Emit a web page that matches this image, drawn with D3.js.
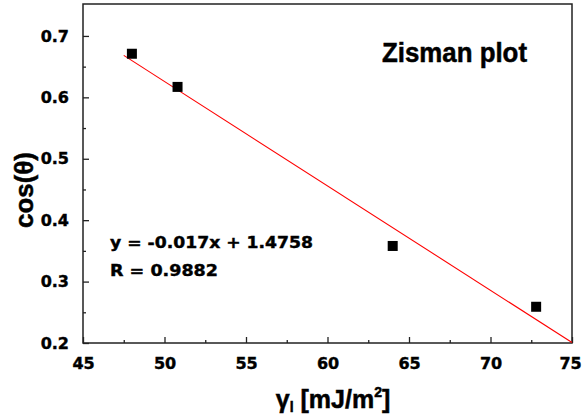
<!DOCTYPE html>
<html>
<head>
<meta charset="utf-8">
<script src="https://cdn.jsdelivr.net/npm/d3@7"></script>
<style>
  html, body { margin: 0; padding: 0; background: #fff; }
  svg { display: block; }
</style>
</head>
<body>
<div id="chart"></div>
<script>
// Surface tension of probe liquids vs. cosine of contact angle
const surfaceTension = [48.0, 50.8, 64.0, 72.8];
const cosTheta = [0.671, 0.617, 0.358, 0.259];

// Linear fit y = slope * x + intercept
const fitSlope = -0.017;
const fitIntercept = 1.4758;
const fitR = 0.9882;
const fitRange = [47.5, 75];

const xTicks = [45, 50, 55, 60, 65, 70, 75];
const xMinorTicks = [47.5, 52.5, 57.5, 62.5, 67.5, 72.5];
const yTicks = [0.2, 0.3, 0.4, 0.5, 0.6, 0.7];
const yMinorTicks = [0.25, 0.35, 0.45, 0.55, 0.65];

const W = 582, H = 417;
const margin = { left: 83, right: 10, top: 4, bottom: 74 };

const svg = d3.select("#chart").append("svg")
  .attr("width", W).attr("height", H);

const x = d3.scaleLinear().domain([45, 75]).range([margin.left, W - margin.right]);
const y = d3.scaleLinear().domain([0.2, 0.752]).range([H - margin.bottom, margin.top]);

const tickFont = "'DejaVu Sans', sans-serif";
const titleFont = "'Liberation Sans', Arial, sans-serif";

// Frame
svg.append("rect")
  .attr("x", x(45)).attr("y", y(0.752))
  .attr("width", x(75) - x(45)).attr("height", y(0.2) - y(0.752))
  .attr("fill", "none").attr("stroke", "#222").attr("stroke-width", 1.5);

// Bottom axis: inward ticks
const xAxis = svg.append("g")
  .attr("transform", `translate(0,${y(0.2)})`)
  .call(d3.axisBottom(x).tickValues(xTicks).tickSizeInner(-6).tickSizeOuter(0)
    .tickFormat(d3.format("d")).tickPadding(15));
xAxis.select(".domain").remove();
xAxis.selectAll("line").attr("stroke", "#222").attr("stroke-width", 1.3);
xAxis.selectAll("text")
  .attr("font-family", tickFont).attr("font-weight", "bold")
  .attr("font-size", 16).attr("fill", "#000")
  .attr("stroke", "#000").attr("stroke-width", 0.4)
  // keep the last label inside the page edge
  .attr("dx", d => d === 75 ? -2 : 0);

svg.append("g")
  .attr("transform", `translate(0,${y(0.2)})`)
  .call(d3.axisBottom(x).tickValues(xMinorTicks).tickSizeInner(-3).tickSizeOuter(0).tickFormat(""))
  .call(g => g.select(".domain").remove())
  .selectAll("line").attr("stroke", "#222").attr("stroke-width", 1.3);

// Left axis: inward ticks
const yAxis = svg.append("g")
  .attr("transform", `translate(${x(45)},0)`)
  .call(d3.axisLeft(y).tickValues(yTicks).tickSizeInner(-6).tickSizeOuter(0)
    .tickFormat(d3.format(".1f")).tickPadding(14));
yAxis.select(".domain").remove();
yAxis.selectAll("line").attr("stroke", "#222").attr("stroke-width", 1.3);
yAxis.selectAll("text")
  .attr("font-family", tickFont).attr("font-weight", "bold")
  .attr("font-size", 16).attr("fill", "#000")
  .attr("stroke", "#000").attr("stroke-width", 0.4);

svg.append("g")
  .attr("transform", `translate(${x(45)},0)`)
  .call(d3.axisLeft(y).tickValues(yMinorTicks).tickSizeInner(-3).tickSizeOuter(0).tickFormat(""))
  .call(g => g.select(".domain").remove())
  .selectAll("line").attr("stroke", "#222").attr("stroke-width", 1.3);

// Fit line
const line = d3.line().x(d => x(d)).y(d => y(fitSlope * d + fitIntercept));
svg.append("path")
  .datum(fitRange)
  .attr("d", line)
  .attr("fill", "none").attr("stroke", "#ff0000").attr("stroke-width", 1.1);

// Data markers
const sq = 10;
svg.append("g").selectAll("rect")
  .data(surfaceTension.map((v, i) => [v, cosTheta[i]]))
  .join("rect")
  .attr("x", d => x(d[0]) - sq / 2).attr("y", d => y(d[1]) - sq / 2)
  .attr("width", sq).attr("height", sq).attr("fill", "#000");

// Annotations
svg.append("text")
  .attr("x", 382).attr("y", 62)
  .attr("font-family", titleFont)
  .attr("font-weight", "bold").attr("font-size", 27)
  .attr("textLength", 145).attr("lengthAdjust", "spacingAndGlyphs")
  .attr("stroke", "#000").attr("stroke-width", 0.5)
  .text("Zisman plot");

svg.append("text")
  .attr("x", 110).attr("y", 248)
  .attr("font-family", tickFont).attr("font-weight", "bold").attr("font-size", 15)
  .attr("textLength", 203).attr("lengthAdjust", "spacingAndGlyphs")
  .attr("stroke", "#000").attr("stroke-width", 0.4)
  .text(`y = ${fitSlope}x + ${fitIntercept}`);

svg.append("text")
  .attr("x", 110).attr("y", 276)
  .attr("font-family", tickFont).attr("font-weight", "bold").attr("font-size", 15)
  .attr("textLength", 108).attr("lengthAdjust", "spacingAndGlyphs")
  .attr("stroke", "#000").attr("stroke-width", 0.4)
  .text(`R = ${fitR}`);

// Axis titles
svg.append("text")
  .attr("transform", "translate(33,190) rotate(-90)")
  .attr("text-anchor", "middle")
  .attr("font-family", titleFont)
  .attr("font-weight", "bold").attr("font-size", 25)
  .attr("textLength", 76).attr("lengthAdjust", "spacingAndGlyphs")
  .attr("stroke", "#000").attr("stroke-width", 0.5)
  .text("cos(θ)");

const xt = svg.append("text")
  .attr("x", 333).attr("y", 408)
  .attr("text-anchor", "middle")
  .attr("font-family", titleFont)
  .attr("font-weight", "bold").attr("font-size", 25)
  .attr("stroke", "#000").attr("stroke-width", 0.5);
xt.append("tspan").text("γ");
xt.append("tspan").attr("font-size", 14).attr("dy", 4).text("l");
xt.append("tspan").attr("dy", -4).text(" [mJ/m");
xt.append("tspan").attr("font-size", 14).attr("dy", -11).text("2");
xt.append("tspan").attr("dy", 11).text("]");
</script>
</body>
</html>
